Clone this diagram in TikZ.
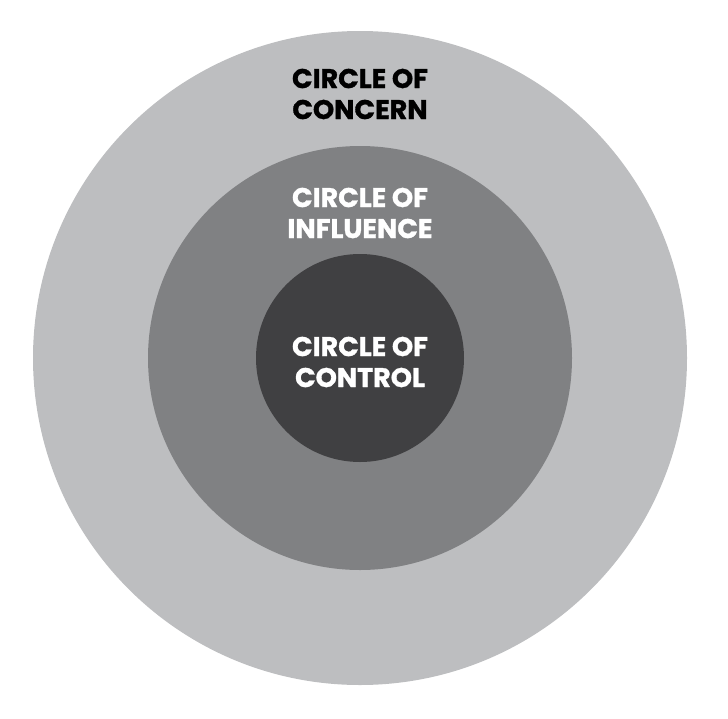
\documentclass[tikz,border=0pt]{standalone}
\usepackage{fontspec}
\setmainfont{Poppins}[BoldFeatures={FakeBold=1.2}]
\definecolor{concern}{HTML}{BDBEC0}
\definecolor{influence}{HTML}{808183}
\definecolor{control}{HTML}{404042}
\begin{document}
\begin{tikzpicture}[x=1pt, y=-1pt, every node/.style={align=center, font=\fontsize{27}{31}\selectfont\bfseries}]
    \useasboundingbox (0,0) rectangle (728,718);
    % Circles
    \fill[concern] (360,358) circle (327);
    \fill[influence] (360,358) circle (212);
    \fill[control] (360,358) circle (104);
    % Labels
    \node[text=black] (concern) at (360,94) {CIRCLE OF\\CONCERN};
    \node[text=white] (influence) at (360,213) {CIRCLE OF\\INFLUENCE};
    \node[text=white] (control) at (360,362) {CIRCLE OF\\CONTROL};
\end{tikzpicture}
\end{document}
